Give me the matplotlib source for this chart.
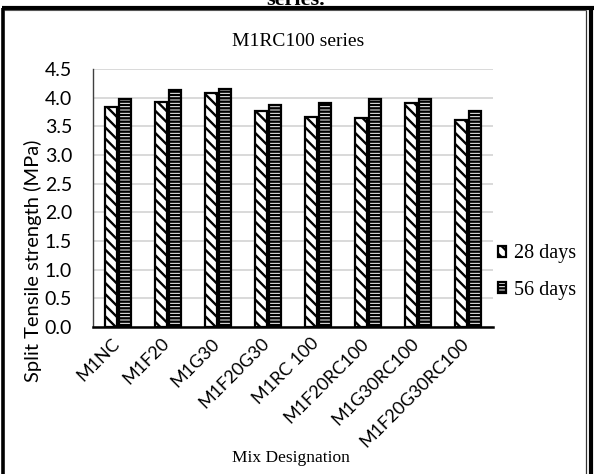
import numpy as np
import matplotlib
matplotlib.use("Agg")
import matplotlib.pyplot as plt
import matplotlib.transforms as mtransforms
from matplotlib.patches import Patch
from matplotlib.lines import Line2D

mixes = ["M1NC", "M1F20", "M1G30", "M1F20G30", "M1RC 100",
         "M1F20RC100", "M1G30RC100", "M1F20G30RC100"]
days_28 = [3.83, 3.92, 4.08, 3.76, 3.67, 3.64, 3.91, 3.61]
days_56 = [3.97, 4.13, 4.15, 3.87, 3.91, 3.97, 3.98, 3.77]
series_labels = ["28 days", "56 days"]
yticks = [0.0, 0.5, 1.0, 1.5, 2.0, 2.5, 3.0, 3.5, 4.0, 4.5]

plt.rcParams["hatch.linewidth"] = 1.7
plt.rcParams["hatch.color"] = "black"

W, H = 596, 474
fig = plt.figure(figsize=(W / 100, H / 100), dpi=100)

sans = ["Lato", "DejaVu Sans"]
serif = ["Liberation Serif", "DejaVu Serif"]

ax = fig.add_axes([93 / W, 1 - 327 / H, 400 / W, (327 - 69) / H])
x = np.arange(len(mixes))
bw = 0.245
off = 0.147
ax.bar(x - off, days_28, bw, facecolor="white", edgecolor="black",
       linewidth=1.6, hatch="\\\\\\", zorder=3)
ax.bar(x + off, days_56, bw, facecolor="white", edgecolor="black",
       linewidth=1.6, hatch="-----", zorder=3)

ax.set_xlim(-0.5, len(mixes) - 0.5)
ax.set_ylim(0, 4.5)
ax.set_yticks(yticks)
ax.set_yticklabels([f"{v:.1f}" for v in yticks], fontfamily=sans, fontsize=14)
ax.set_xticks(x)
ax.set_xticklabels(mixes, rotation=45, ha="right", rotation_mode="anchor",
                   fontfamily=sans, fontsize=13)
ax.tick_params(axis="y", length=0, pad=15)
ax.tick_params(axis="x", length=0, pad=6)
# nudge the slanted category labels so they end under the bar pair
shift = mtransforms.ScaledTranslation(-7 / 100, 0, fig.dpi_scale_trans)
for lbl in ax.get_xticklabels():
    lbl.set_transform(lbl.get_transform() + shift)
ax.grid(axis="y", color="#d9d9d9", linewidth=1.4, zorder=0)
ax.set_axisbelow(True)
for s in ("top", "right"):
    ax.spines[s].set_visible(False)
ax.spines["left"].set_color("#404040")
ax.spines["left"].set_linewidth(1.0)
ax.spines["bottom"].set_color("black")
ax.spines["bottom"].set_linewidth(1.8)

fig.text(33 / W, 1 - 261 / H, "Split Tensile strength (MPa)", rotation=90,
         ha="center", va="center", fontfamily=sans, fontsize=14.5)
fig.text(291 / W, 1 - 458 / H, "Mix Designation", ha="center", va="center",
         fontfamily=serif, fontsize=12.5)
fig.text(298 / W, 1 - 42 / H, "M1RC100 series", ha="center", va="center",
         fontfamily=serif, fontsize=14)
fig.text(296 / W, 1 - 5 / H, "series.", ha="center", va="baseline",
         fontfamily=serif, fontsize=16, fontweight="bold")

handles = [Patch(facecolor="white", edgecolor="black", linewidth=1.6, hatch="\\\\\\"),
           Patch(facecolor="white", edgecolor="black", linewidth=1.6, hatch="-----")]
fig.legend(handles, series_labels, loc="center left",
           bbox_to_anchor=(480 / W, 1 - 272 / H), frameon=False,
           prop={"family": serif, "size": 14.5}, handlelength=0.4,
           handleheight=0.5, handletextpad=0.4, labelspacing=0.85)

# page frame around the chart
frame = [((2 / W, 594 / W), (1 - 8 / H, 1 - 8 / H), 3.0, "black"),
         ((4 / W, 586 / W), (1 - 10 / H, 1 - 10 / H), 0.8, "#555555"),
         ((3 / W, 3 / W), (1 - 8 / H, -0.01), 2.6, "black"),
         ((586 / W, 586 / W), (1 - 10 / H, -0.01), 0.9, "#333333"),
         ((591 / W, 591 / W), (1 - 8 / H, -0.01), 3.0, "black")]
for xs, ys, lw, c in frame:
    fig.add_artist(Line2D(xs, ys, transform=fig.transFigure, color=c,
                          linewidth=lw, solid_capstyle="butt"))

fig.savefig("out.png", dpi=100)
